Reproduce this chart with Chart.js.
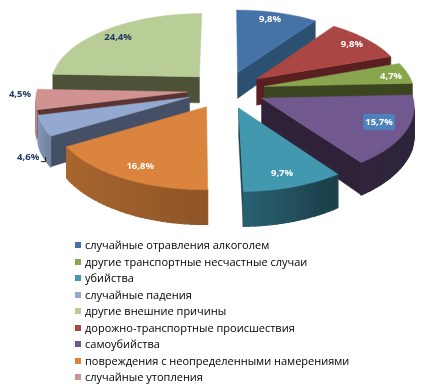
<!DOCTYPE html>
<html>
<head>
<meta charset="utf-8">
<script src="https://cdn.jsdelivr.net/npm/chart.js@4"></script>
<style>
  html, body { margin: 0; background: #fff; }
  #wrap { position: relative; width: 430px; height: 390px; overflow: hidden; }
  #legend { position: absolute; left: 75px; top: 237px; font: 11px "Open Sans", sans-serif; color: #000; }
  .row { height: 16.5px; line-height: 16.5px; white-space: nowrap; }
  .row i { display: inline-block; width: 6px; height: 6px; margin-right: 4px; vertical-align: 1px; }
</style>
</head>
<body>
<div id="wrap">
  <canvas id="pie" width="430" height="390"></canvas>
  <div id="legend"></div>
</div>
<script>
// ── Data, in pie order (clockwise from 12 o'clock) ─────────
const categories = [
  'случайные отравления алкоголем',
  'дорожно-транспортные происшествия',
  'другие транспортные несчастные случаи',
  'самоубийства',
  'убийства',
  'повреждения с неопределенными намерениями',
  'случайные падения',
  'случайные утопления',
  'другие внешние причины',
];
const shares = [9.8, 9.8, 4.7, 15.7, 9.7, 16.8, 4.6, 4.5, 24.4];
const legendOrder = [0, 2, 4, 6, 8, 1, 3, 5, 7];

const topColors  = ['#4572A7', '#AA4643', '#89A54E', '#71588F', '#4198AF', '#DB843D', '#93A9CF', '#D19392', '#B9CD96'];
const wallColors = ['#2C5070', '#5A1F20', '#3B4520', '#2E2238', '#1C3E4B', '#8A4E22', '#454F66', '#5A3433', '#4D5137'];
const labelColors = ['#fff', '#fff', '#fff', '#fff', '#fff', '#fff', '#1F3864', '#1F3864', '#1F3864'];

// label position inside each slice: angle in degrees, radius as a fraction of the pie
const labelAngles = [16.2, 52.5, 80.2, 113, 162.3, 208.1, 231.9, 268.5, 315.7];
const labelRadii  = [0.88, 0.866, 0.879, 0.808, 0.834, 0.833, 1.232, 1.108, 0.851];

// rim shading by compass angle of the rim
const rimAngles = [90, 150, 165, 180, 210, 240, 256, 272];
const rimShades = [0.41, 0.43, 0.55, 0.65, 0.72, 0.78, 0.9, 0.9];

// ── 3D look ────────────────────────────────────────────────
const EXPLODE = 0.26, PERSP = 0.096, DEPTH = 27;
const X_STRETCH = 150 / 90, Y_STRETCH = 71.7 / 90;
const MIN_WALL = 3; // radial walls narrower than this stay hidden

function rimShade(deg) {
  for (let i = 1; i < rimAngles.length; i++) {
    if (deg <= rimAngles[i]) {
      const t = Math.max(0, (deg - rimAngles[i - 1]) / (rimAngles[i] - rimAngles[i - 1]));
      return rimShades[i - 1] + t * (rimShades[i] - rimShades[i - 1]);
    }
  }
  return rimShades[rimShades.length - 1];
}

function darken(hex, f) {
  const n = parseInt(hex.slice(1), 16);
  return `rgb(${(n >> 16 & 255) * f | 0},${(n >> 8 & 255) * f | 0},${(n & 255) * f | 0})`;
}

function fillPoly(ctx, pts, color, seam) {
  ctx.beginPath();
  pts.forEach((p, i) => (i ? ctx.lineTo(p.x, p.y) : ctx.moveTo(p.x, p.y)));
  ctx.closePath();
  ctx.fillStyle = color;
  ctx.strokeStyle = color;
  ctx.lineWidth = seam;
  ctx.fill();
  ctx.stroke();
}

const pie3d = {
  id: 'pie3d',
  beforeDatasetsDraw(chart) {
    const ctx = chart.ctx;
    const arcs = chart.getDatasetMeta(0).data;

    // each slice gets its own apex, pushed out along its bisector
    const slices = arcs.map((arc, i) => {
      const a0 = arc.startAngle + Math.PI / 2;
      const a1 = arc.endAngle + Math.PI / 2;
      const mid = (a0 + a1) / 2;
      const R = arc.outerRadius;
      const project = (ang, r) => {
        const u = EXPLODE * Math.sin(mid) + r * Math.sin(ang);
        const v = -EXPLODE * Math.cos(mid) - r * Math.cos(ang);
        const w = 1 / (1 - PERSP * v);
        return { x: arc.x + R * X_STRETCH * u * w, y: arc.y + R * Y_STRETCH * v * w, w };
      };
      return { i, a0, a1, mid, project };
    });

    const drop = p => ({ x: p.x, y: p.y + DEPTH * p.w * p.w });

    // back to front
    const order = slices.slice().sort((s, t) => Math.cos(t.mid) - Math.cos(s.mid));
    order.forEach(s => {
      const steps = Math.ceil((s.a1 - s.a0) / (Math.PI / 90));
      const apex = s.project(s.a0, 0);
      const rim = [];
      for (let k = 0; k <= steps; k++) rim.push(s.project(s.a0 + (s.a1 - s.a0) * k / steps, 1));

      // radial walls: only those facing the viewer
      const first = rim[0], last = rim[steps];
      if (apex.x - first.x > MIN_WALL) fillPoly(ctx, [apex, first, drop(first), drop(apex)], wallColors[s.i], 0.5);
      if (last.x - apex.x > MIN_WALL) fillPoly(ctx, [last, apex, drop(apex), drop(last)], wallColors[s.i], 0.5);

      // rim wall, strip by strip
      for (let k = 0; k < steps; k++) {
        const p = rim[k], q = rim[k + 1];
        if (q.x >= p.x) continue;
        const deg = (s.a0 + (s.a1 - s.a0) * (k + 0.5) / steps) * 180 / Math.PI;
        fillPoly(ctx, [p, q, drop(q), drop(p)], darken(topColors[s.i], rimShade(deg)), 1.2);
      }

      fillPoly(ctx, [apex, ...rim], topColors[s.i], 0.5);
    });

    // percent labels
    ctx.font = 'bold 9.5px "Open Sans", sans-serif';
    ctx.textAlign = 'center';
    ctx.textBaseline = 'middle';
    slices.forEach(s => {
      const p = s.project(labelAngles[s.i] * Math.PI / 180, labelRadii[s.i]);
      const text = shares[s.i].toFixed(1).replace('.', ',') + '%';
      if (s.i === 3) { // the highlighted one
        ctx.fillStyle = '#4F81BD';
        ctx.beginPath();
        ctx.roundRect(p.x - 16, p.y - 8, 32, 16, 2);
        ctx.fill();
      }
      if (s.i === 6) { // leader of the outside label
        ctx.strokeStyle = '#111';
        ctx.lineWidth = 1;
        ctx.beginPath();
        ctx.moveTo(p.x + 13, p.y + 4.5);
        ctx.lineTo(p.x + 17.5, p.y + 4.5);
        ctx.lineTo(p.x + 17.5, p.y);
        ctx.stroke();
      }
      ctx.fillStyle = labelColors[s.i];
      ctx.fillText(text, p.x, p.y);
    });
    return false;
  },
};

new Chart(document.getElementById('pie'), {
  type: 'pie',
  data: {
    labels: categories,
    datasets: [{ data: shares, backgroundColor: topColors, borderWidth: 0 }],
  },
  options: {
    responsive: false,
    animation: false,
    layout: { padding: { left: 22, bottom: 210 } },
    plugins: { legend: { display: false }, tooltip: { enabled: false } },
  },
  plugins: [pie3d],
});

document.getElementById('legend').innerHTML = legendOrder.map(i =>
  `<div class="row"><i style="background:${topColors[i]}"></i>${categories[i]}</div>`
).join('');
</script>
</body>
</html>
